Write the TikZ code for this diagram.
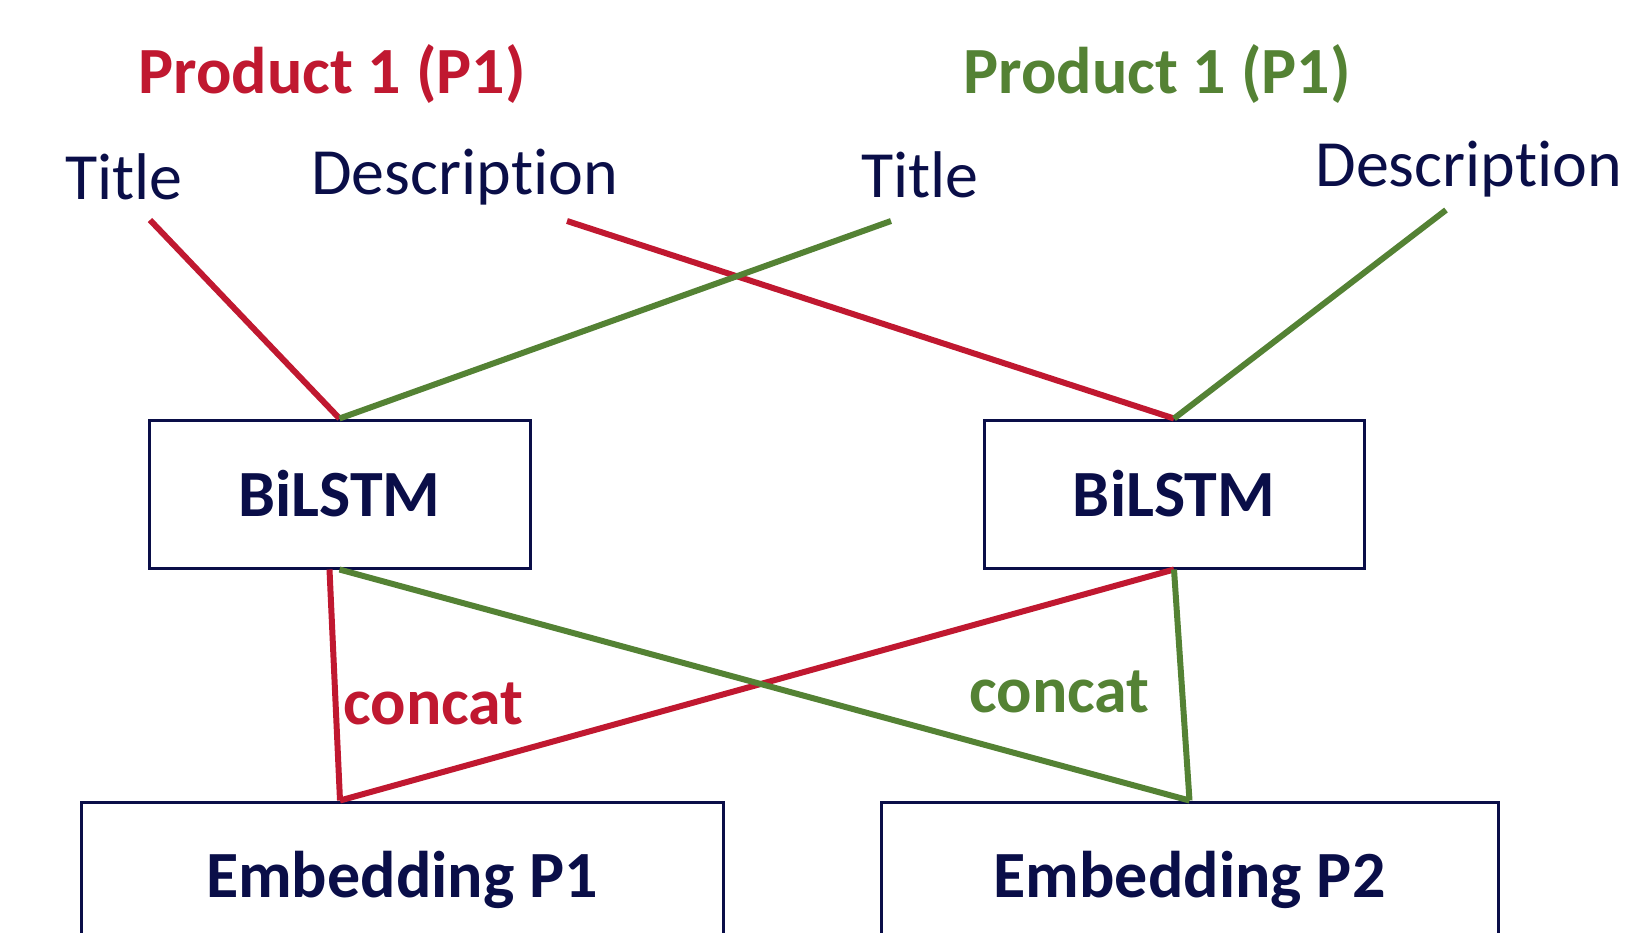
\documentclass[tikz,border=0pt]{standalone}
\usepackage{fontspec}
\setmainfont{Carlito}[Ligatures=NoCommon]
\usetikzlibrary{calc}
\definecolor{pred}{RGB}{192,24,48}
\definecolor{pgreen}{RGB}{84,130,52}
\definecolor{navy}{RGB}{10,14,72}
\tikzset{
	lbl/.style={font=\fontsize{33}{40}\selectfont, text=navy, inner sep=0pt, anchor=base west},
	bold lbl/.style={lbl, font=\fontsize{33}{40}\selectfont\bfseries},
	block/.style={draw=navy, line width=1.5pt, font=\fontsize{33}{40}\selectfont\bfseries, text=navy, inner sep=0pt},
	redline/.style={draw=pred, line width=3pt},
	greenline/.style={draw=pgreen, line width=3pt},
}

\begin{document}
\begin{tikzpicture}[x=0.5pt, y=-0.5pt]
	\useasboundingbox (0,0) rectangle (1627,932);
	% headings and inputs
	\node[bold lbl, text=pred] (p1) at (138,93) {Product 1 (P1)};
	\node[bold lbl, text=pgreen] (p2) at (963,93) {Product 1 (P1)};
	\node[lbl] (title1) at (65,199) {Title};
	\node[lbl] (desc1) at (311,194) {Description};
	\node[lbl] (title2) at (861,197) {Title};
	\node[lbl] (desc2) at (1315,186) {Description};
	\coordinate (title1-out) at (150,220);
	\coordinate (desc1-out) at (567,221);
	\coordinate (title2-out) at (891,221);
	\coordinate (desc2-out) at (1446,210);
	% encoders
	\node[block, minimum width=190.5pt, minimum height=74pt] (lstm1) at (339.5,494) {BiLSTM};
	\node[block, minimum width=190pt, minimum height=74pt] (lstm2) at (1174,494) {BiLSTM};
	\node[block, minimum width=321pt, minimum height=78pt] (emb1) at (402,880) {Embedding P1};
	\node[block, minimum width=308.5pt, minimum height=78pt] (emb2) at (1189.5,880) {Embedding P2};
	\coordinate (emb1-in) at ($(emb1.north)+(-62,0)$);
	\path[redline]
	(title1-out) edge (lstm1.north)
	(desc1-out) edge (lstm2.north)
	($(lstm1.south)+(-10,0)$) edge (emb1-in)
	(lstm2.south) edge (emb1-in);
	\path[greenline]
	(title2-out) edge (lstm1.north)
	(desc2-out) edge (lstm2.north)
	(lstm1.south) edge (emb2.north)
	(lstm2.south) edge (emb2.north);
	\node[bold lbl, text=pred] (cat1) at (343,724) {concat};
	\node[bold lbl, text=pgreen] (cat2) at (969,712) {concat};
\end{tikzpicture}
\end{document}
